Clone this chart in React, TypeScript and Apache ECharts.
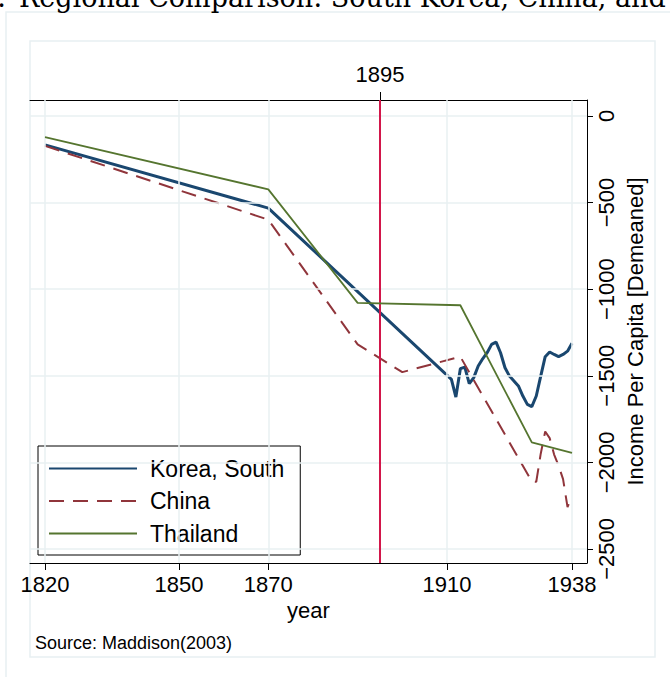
import React, { useEffect, useRef } from "react";
import * as echarts from "echarts";

// ---------- data ----------
const koreaYears = [1820, 1870, 1911, 1912, 1913, 1914, 1915, 1916, 1917, 1918, 1919, 1920, 1921, 1922, 1923, 1924, 1925, 1926, 1927, 1928, 1929, 1930, 1931, 1932, 1933, 1934, 1935, 1936, 1937, 1938];
const koreaValues = [-167, -532, -1521, -1623, -1459, -1450, -1546, -1511, -1444, -1402, -1367, -1319, -1306, -1367, -1454, -1502, -1530, -1559, -1617, -1665, -1678, -1617, -1502, -1390, -1363, -1377, -1390, -1377, -1358, -1313];

const chinaYears = [1820, 1870, 1890, 1900, 1913, 1929, 1930, 1931, 1932, 1933, 1934, 1935, 1936, 1937, 1938];
const chinaValues = [-173, -599, -1319, -1479, -1390, -2110, -2112, -1950, -1822, -1860, -1955, -2020, -2097, -2258, -2193];

const thailandYears = [1820, 1870, 1890, 1913, 1929, 1938];
const thailandValues = [-123, -424, -1079, -1093, -1885, -1945];

const seriesNames = ["Korea, South", "China", "Thailand"];
const xTickYears = [1820, 1850, 1870, 1910, 1938];
const eventYears = [1895];
const yTickValues = [0, -500, -1000, -1500, -2000, -2500];

const titleLead = "Figure 1:";
const titleText = "Regional Comparison: South Korea, China, and Thailand";
const xAxisTitle = "year";
const yAxisTitle = "Income Per Capita [Demeaned]";
const sourceNote = "Source: Maddison(2003)";

const zip = (xs: number[], ys: number[]) => xs.map((x, i) => [x, ys[i]]);

const FONT = '"Liberation Sans", Arial, Helvetica, sans-serif';
const SERIF = '"DejaVu Serif", "Liberation Serif", serif';
const GRID_COLOR = "#e8f0f2";

export default function App() {
  const ref = useRef<HTMLDivElement>(null);

  useEffect(() => {
    if (!ref.current) return;
    const chart = echarts.init(ref.current, undefined, { renderer: "svg" });

    const xMin = 1816.64;
    const xMax = 1941.36;
    const yMin = -2581;
    const yMax = 92;

    const minus = (v: number) => (v < 0 ? "\u2212" + Math.abs(v) : String(v));

    const option: any = {
      animation: false,
      backgroundColor: "#ffffff",
      textStyle: { fontFamily: FONT },
      grid: {
        left: 30,
        top: 100,
        width: 557,
        height: 463,
        containLabel: false,
        outerBoundsMode: "none",
      },
      legend: {
        data: seriesNames,
        orient: "vertical",
        left: 38,
        top: 446,
        backgroundColor: "#ffffff",
        borderColor: "#000000",
        borderWidth: 1,
        borderRadius: 0,
        padding: [11, 16, 10, 10],
        itemWidth: 88,
        itemHeight: 14,
        itemGap: 9.5,
        selectedMode: false,
        itemStyle: { opacity: 0 },
        textStyle: {
          fontSize: 23,
          lineHeight: 23,
          color: "#000000",
          fontFamily: FONT,
          padding: [0, 0, 0, 8],
        },
      },
      xAxis: [
        {
          type: "value",
          position: "bottom",
          min: xMin,
          max: xMax,
          axisLine: { show: true, onZero: false, lineStyle: { color: "#000", width: 1 } },
          axisTick: { show: true, customValues: xTickYears, length: 7, lineStyle: { color: "#000", width: 1 } },
          axisLabel: {
            show: true,
            customValues: xTickYears,
            fontSize: 22,
            color: "#000",
            fontFamily: FONT,
            margin: 10,
            formatter: (v: number) => String(v),
          },
          splitLine: { show: false },
          name: xAxisTitle,
          nameLocation: "middle",
          nameGap: 36,
          nameTextStyle: { fontSize: 22, color: "#000", fontFamily: FONT },
        },
        {
          type: "value",
          position: "top",
          min: xMin,
          max: xMax,
          axisLine: { show: true, onZero: false, lineStyle: { color: "#000", width: 1 } },
          axisTick: { show: true, customValues: eventYears, length: 8, lineStyle: { color: "#000", width: 1 } },
          axisLabel: {
            show: true,
            customValues: eventYears,
            fontSize: 22,
            color: "#000",
            fontFamily: FONT,
            margin: 15,
            formatter: (v: number) => String(v),
          },
          splitLine: { show: false },
        },
      ],
      yAxis: {
        type: "value",
        position: "right",
        min: yMin,
        max: yMax,
        axisLine: { show: true, onZero: false, lineStyle: { color: "#000", width: 1 } },
        axisTick: { show: true, customValues: yTickValues, length: 6, lineStyle: { color: "#000", width: 1 } },
        axisLabel: {
          show: true,
          customValues: yTickValues,
          rotate: 90,
          fontSize: 22,
          color: "#000",
          fontFamily: FONT,
          margin: 8,
          formatter: (v: number) => minus(v),
        },
        splitLine: { show: false },
        name: yAxisTitle,
        nameLocation: "middle",
        nameRotate: 90,
        nameGap: 37,
        nameTextStyle: { fontSize: 22, color: "#000", fontFamily: FONT },
      },
      graphic: [
        {
          type: "rect",
          z: -10,
          silent: true,
          shape: { x: 6, y: 12, width: 720, height: 720 },
          style: { fill: "none", stroke: GRID_COLOR, lineWidth: 1.5 },
        },
        {
          type: "rect",
          z: -9,
          silent: true,
          shape: { x: 30, y: 41, width: 625, height: 616 },
          style: { fill: "none", stroke: GRID_COLOR, lineWidth: 1.5 },
        },
        {
          type: "text",
          x: 6,
          y: -3,
          silent: true,
          style: {
            text: titleLead,
            font: "27px " + SERIF,
            fill: "#000",
            align: "right",
            verticalAlign: "middle",
          },
        },
        {
          type: "text",
          x: 19,
          y: -3,
          silent: true,
          style: {
            text: titleText,
            font: "27px " + SERIF,
            fill: "#000",
            align: "left",
            verticalAlign: "middle",
          },
        },
        {
          type: "text",
          x: 35,
          y: 643,
          silent: true,
          style: {
            text: sourceNote,
            font: '18px "Liberation Sans", Arial, sans-serif',
            fill: "#000",
            align: "left",
            verticalAlign: "middle",
          },
        },
      ],
      series: [
        {
          name: "grid",
          type: "line",
          data: [],
          symbol: "none",
          silent: true,
          z: 1,
          markLine: {
            silent: true,
            symbol: "none",
            animation: false,
            label: { show: false },
            lineStyle: { color: GRID_COLOR, width: 1.5, type: "solid" },
            emphasis: { disabled: true },
            data: [
              ...xTickYears.map((x) => ({ xAxis: x })),
              ...yTickValues.map((y) => ({ yAxis: y })),
            ],
          },
        },
        {
          name: "event",
          type: "line",
          data: [],
          symbol: "none",
          silent: true,
          z: 2,
          markLine: {
            silent: true,
            symbol: "none",
            animation: false,
            label: { show: false },
            lineStyle: { color: "#d2164a", width: 2, type: "solid" },
            emphasis: { disabled: true },
            data: eventYears.map((x) => ({ xAxis: x })),
          },
        },
        {
          name: seriesNames[0],
          type: "line",
          data: zip(koreaYears, koreaValues),
          symbol: "none",
          z: 3,
          lineStyle: { color: "#1a476f", width: 3 },
          itemStyle: { color: "#1a476f" },
        },
        {
          name: seriesNames[1],
          type: "line",
          data: zip(chinaYears, chinaValues),
          symbol: "none",
          z: 4,
          lineStyle: { color: "#90353b", width: 2, type: [15, 9] },
          itemStyle: { color: "#90353b" },
        },
        {
          name: seriesNames[2],
          type: "line",
          data: zip(thailandYears, thailandValues),
          symbol: "none",
          z: 5,
          lineStyle: { color: "#55752f", width: 1.8 },
          itemStyle: { color: "#55752f" },
        },
      ],
    };

    chart.setOption(option);
    return () => chart.dispose();
  }, []);

  return (
    <div
      ref={ref}
      style={{ position: "fixed", left: 0, top: 0, width: 670, height: 677, background: "#fff" }}
    />
  );
}
